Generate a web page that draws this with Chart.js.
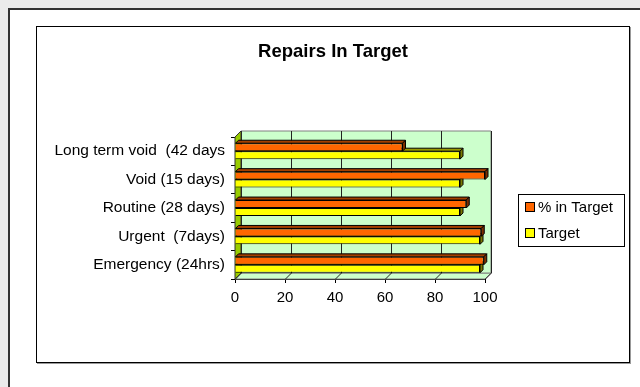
<!DOCTYPE html>
<html>
<head>
<meta charset="utf-8">
<title>Repairs In Target</title>
<script src="https://cdn.jsdelivr.net/npm/chart.js@4"></script>
<style>
    html, body { margin: 0; padding: 0; background: #ebebeb; overflow: hidden; }
    #outer { position: absolute; left: 8px; top: 8px; width: 700px; height: 500px; background: #fff; border: 2px solid #333; }
    #inner { position: absolute; left: 36px; top: 26px; width: 592px; height: 335px; border: 1px solid #000; box-shadow: 1px 1px 0 #999; background: #fff; }
    #myChart { position: absolute; left: 0; top: 0; }
</style>
</head>
<body>
<div id="outer"></div>
<div id="inner"><canvas id="myChart" width="592" height="335"></canvas></div>
<script>
// chart data, top category first
const categories = ["Long term void  (42 days", "Void (15 days)", "Routine (28 days)", "Urgent  (7days)", "Emergency (24hrs)"];
const pctInTarget = [67, 100, 92.5, 98.5, 99.5];
const target = [90, 90, 90, 98, 98];
const xTicks = [0, 20, 40, 60, 80, 100];

window.onload = () => {
    const FONT = 'Arial, "Liberation Sans", sans-serif';
    const depth = 6;     // depth of the walls
    const barDepth = 3;  // depth of each bar

    Chart.defaults.font.family = FONT;
    Chart.defaults.font.size = 15;
    Chart.defaults.color = "#000";

    function poly(ctx, pts, fill, stroke) {
        ctx.beginPath();
        ctx.moveTo(pts[0][0], pts[0][1]);
        pts.slice(1).forEach(p => ctx.lineTo(p[0], p[1]));
        ctx.closePath();
        ctx.fillStyle = fill;
        ctx.fill();
        ctx.strokeStyle = stroke;
        ctx.lineWidth = 1;
        ctx.stroke();
    }

    // back wall, floor and left wall of the 3D plot, plus bar tops/ends
    const walls = {
        id: "walls",
        beforeDatasetsDraw(chart) {
            const { ctx, chartArea: a, scales: { x } } = chart;
            ctx.save();
            poly(ctx, [[a.left, a.bottom], [a.left + depth, a.bottom - depth], [a.right + depth, a.bottom - depth], [a.right, a.bottom]], "#ccffcc", "#808080");
            poly(ctx, [[a.left + depth, a.top - depth], [a.right + depth, a.top - depth], [a.right + depth, a.bottom - depth], [a.left + depth, a.bottom - depth]], "#ccffcc", "#808080");
            ctx.strokeStyle = "#222";
            x.ticks.forEach((t, i) => {
                const px = Math.round(x.getPixelForTick(i)) + 0.5;
                ctx.beginPath();
                ctx.moveTo(px + depth, a.top - depth);
                ctx.lineTo(px + depth, a.bottom - depth);
                ctx.moveTo(px, a.bottom);
                ctx.lineTo(px + depth, a.bottom - depth);
                ctx.stroke();
            });
            poly(ctx, [[a.left, a.top], [a.left + depth, a.top - depth], [a.left + depth, a.bottom - depth], [a.left, a.bottom]], "#99cc00", "#333");
            ctx.restore();
        },
        // drawn before each dataset's front faces, so the bar above hides the top face of the bar below
        beforeDatasetDraw(chart, args) {
            const ctx = chart.ctx;
            const ds = chart.data.datasets[args.index];
            ctx.save();
            args.meta.data.forEach(bar => {
                const { x, y, base, height } = bar.getProps(["x", "y", "base", "height"], true);
                const top = y - height / 2, bottom = y + height / 2;
                poly(ctx, [[base, top], [base + barDepth, top - barDepth], [x + barDepth, top - barDepth], [x, top]], ds.topColor, "#000");
                poly(ctx, [[x, top], [x + barDepth, top - barDepth], [x + barDepth, bottom - barDepth], [x, bottom]], ds.endColor, "#000");
            });
            ctx.restore();
        }
    };

    // boxed legend on the right
    const legendBox = {
        id: "legendBox",
        afterDraw(chart) {
            const { ctx, chartArea: a } = chart;
            const left = Math.round(a.right) + 33, top = Math.round(a.top) + 57;
            ctx.save();
            ctx.strokeStyle = "#000";
            ctx.lineWidth = 1;
            ctx.strokeRect(left + 0.5, top + 0.5, 106, 52);
            ctx.font = "15px " + FONT;
            ctx.textBaseline = "middle";
            chart.data.datasets.forEach((ds, i) => {
                const cy = top + 13 + i * 26;
                ctx.fillStyle = ds.backgroundColor;
                ctx.fillRect(left + 7.5, cy - 4.5, 9, 9);
                ctx.strokeRect(left + 7.5, cy - 4.5, 9, 9);
                ctx.fillStyle = "#000";
                ctx.fillText(ds.label, left + 20, cy + 1);
            });
            ctx.restore();
        }
    };

    const data = {
        labels: categories,
        datasets: [
            {
                label: "% in Target",
                data: pctInTarget,
                backgroundColor: "#ff6600",
                borderColor: "#000",
                borderWidth: 1,
                topColor: "#a33f00",
                endColor: "#7a2e00",
            },
            {
                label: "Target",
                data: target,
                backgroundColor: "#ffff00",
                borderColor: "#000",
                borderWidth: 1,
                topColor: "#999900",
                endColor: "#7a7a00",
            },
        ],
    };

    const config = {
        type: "bar",
        data: data,
        options: {
            indexAxis: "y",
            responsive: false,
            animation: false,
            categoryPercentage: 0.56,
            barPercentage: 1,
            plugins: {
                legend: { display: false },
                tooltip: { enabled: false },
                title: {
                    display: true,
                    text: "Repairs In Target",
                    font: { size: 18.5, weight: "bold" },
                    padding: { top: 14, bottom: 73.8 },
                },
            },
            scales: {
                x: {
                    min: 0,
                    max: 100,
                    afterBuildTicks: s => { s.ticks = xTicks.map(v => ({ value: v })); },
                    afterFit: s => { s.height = 83; },
                    border: { color: "#000" },
                    grid: { drawOnChartArea: false, drawTicks: true, tickLength: 4, color: "#000" },
                    ticks: { padding: 6, font: { size: 15 } },
                },
                y: {
                    afterFit: s => { s.width = 198; },
                    border: { color: "#000" },
                    grid: { drawOnChartArea: false, drawTicks: true, tickLength: 4, color: "#000", offset: true },
                    ticks: { padding: 6, font: { size: 15.5 } },
                },
                // empty right-hand space that holds the legend
                side: {
                    type: "linear",
                    position: "right",
                    afterFit: s => { s.width = 144; },
                    border: { display: false },
                    grid: { display: false },
                    ticks: { display: false },
                },
            },
        },
        plugins: [walls, legendBox],
    };

    new Chart(document.getElementById("myChart"), config);
};
</script>
</body>
</html>
